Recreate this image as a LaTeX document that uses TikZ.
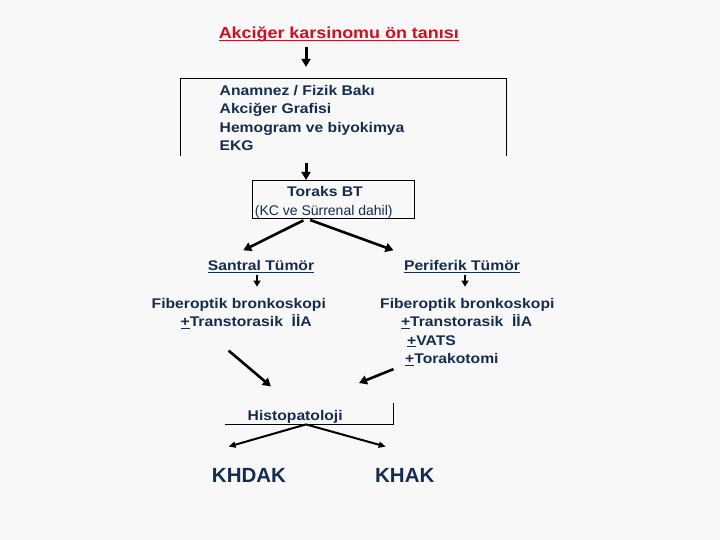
\documentclass[tikz,border=0pt]{standalone}
\usepackage{fontspec}
\setmainfont{Liberation Sans}
\newfontfamily\widesans{Liberation Sans}[FakeStretch=1.12]
\usetikzlibrary{arrows.meta,positioning}
\definecolor{slideNavy}{RGB}{20,44,80}
\definecolor{slideRed}{RGB}{204,16,32}
\definecolor{slideBg}{RGB}{248,248,248}

\begin{document}
\begin{tikzpicture}[x=1pt, y=-1pt,
    lbl/.style={text=slideNavy, inner sep=0pt,
      font=\widesans\bfseries\fontsize{14}{18.6}\selectfont},
    note/.style={text=slideNavy, inner sep=0pt,
      font=\fontsize{14}{17}\selectfont},
    big/.style={text=slideNavy, inner sep=0pt,
      font=\bfseries\fontsize{20.5}{24}\selectfont},
    frame/.style={draw=none, inner sep=0pt},
    boxline/.style={black, line width=0.9pt},
    bigarr/.style={-{Triangle[length=8pt,width=9pt]}, line width=3pt},
    midarr/.style={-{Triangle[length=8pt,width=9pt]}, line width=2.6pt},
    smallarr/.style={-{Triangle[length=6pt,width=7pt]}, line width=2pt},
    thinarr/.style={-{Triangle[length=7pt,width=6pt]}, line width=2pt}
  ]
  \fill[slideBg] (0,0) rectangle (720,540);
  \useasboundingbox (0,0) rectangle (720,540);

  \coordinate (spine) at (306,0);

  % Title
  \node[lbl, text=slideRed, anchor=base,
    font=\widesans\bfseries\fontsize{16}{19}\selectfont] (title) at (338.8,38.4)
    {Akciğer karsinomu ön tanısı};
  \draw[slideRed, line width=1.5pt] ([yshift=-2.3pt]title.base west)
    -- ([yshift=-2.3pt]title.base east);

  % First examinations (base = last line)
  \node[frame, minimum width=326, minimum height=77.1] (box1) at (343.4,117.05) {};
  \draw[boxline] (box1.south west) -- (box1.north west) -- (box1.north east)
    -- (box1.south east);
  \node[lbl, align=left, anchor=base west] (exams) at (219.5,150.9)
    {Anamnez / Fizik Bakı\\Akciğer Grafisi\\Hemogram ve biyokimya\\EKG};

  % Toraks BT
  \node[frame, draw, line width=0.9pt, minimum width=162.6,
    minimum height=37.9] (box2) at (333.3,199.35) {};
  \node[lbl, anchor=base] (toraks) at (325,196.5) {Toraks BT};
  \node[note, anchor=base] (surrenal) at (323.7,215) {(KC ve Sürrenal dahil)};

  % Tumour location
  \node[lbl, anchor=base] (santral) at (261,270.2) {\underline{Santral Tümör}};
  \node[lbl, anchor=base] (periferik) at (462,270.2) {\underline{Periferik Tümör}};

  \node[lbl, align=left, anchor=base west] (fibL) at (151.5,326.6)
    {Fiberoptik bronkoskopi\\
     \hspace*{28.9pt}\underline{+}Transtorasik~ İİA};
  \node[lbl, align=left, anchor=base west] (fibR) at (380,363.8)
    {Fiberoptik bronkoskopi\\
     \hspace*{20.8pt}\underline{+}Transtorasik~ İİA\\
     \hspace*{27pt}\underline{+}VATS\\
     \hspace*{25pt}\underline{+}Torakotomi};

  % Histopatoloji
  \node[frame, minimum width=168.5, minimum height=20.6] (histobox) at (309.25,413.9) {};
  \draw[boxline] (histobox.south west) -- (histobox.south east) -- (histobox.north east);
  \node[lbl, anchor=base] (histo) at (295.2,420) {Histopatoloji};

  \node[big, anchor=base] (khdak) at (249,482.5) {KHDAK};
  \node[big, anchor=base] (khak) at (404.8,482.5) {KHAK};

  % Free arrow ends
  \coordinate (toSantral) at (243.3,250.3);
  \coordinate (toPeriferik) at (393.5,250.3);
  \coordinate (fromSantral) at (228.6,350.6);
  \coordinate (toHistoL) at (270.9,386.4);
  \coordinate (fromPeriferik) at (393.5,369.1);
  \coordinate (toHistoR) at (359,383);
  \coordinate (toKhdak) at (228.6,446.6);
  \coordinate (toKhak) at (385.7,446.6);

  % Arrows
  \draw[bigarr, shorten <=9.1pt, shorten >=11.4pt]
    (title.base -| spine) -- (box1.north -| spine);
  \draw[bigarr, shorten <=7.3pt] (box1.south -| spine) -- (box2.north -| spine);
  \draw[midarr, shorten <=3.7pt] ([xshift=0.7pt]box2.south -| spine) -- (toSantral);
  \draw[midarr, shorten <=3.7pt] ([xshift=0.7pt]box2.south -| spine) -- (toPeriferik);
  \draw[smallarr, shorten <=2pt, shorten >=11pt]
    ([xshift=-4pt]santral.south) -- ([xshift=-4pt]santral.south |- fibL.north);
  \draw[smallarr, shorten <=2pt, shorten >=11pt]
    ([xshift=3pt]periferik.south) -- ([xshift=3pt]periferik.south |- fibR.north);
  \draw[midarr] (fromSantral) -- (toHistoL);
  \draw[midarr] (fromPeriferik) -- (toHistoR);
  \draw[thinarr] (histobox.south -| spine) -- (toKhdak);
  \draw[thinarr] (histobox.south -| spine) -- (toKhak);
\end{tikzpicture}
\end{document}
